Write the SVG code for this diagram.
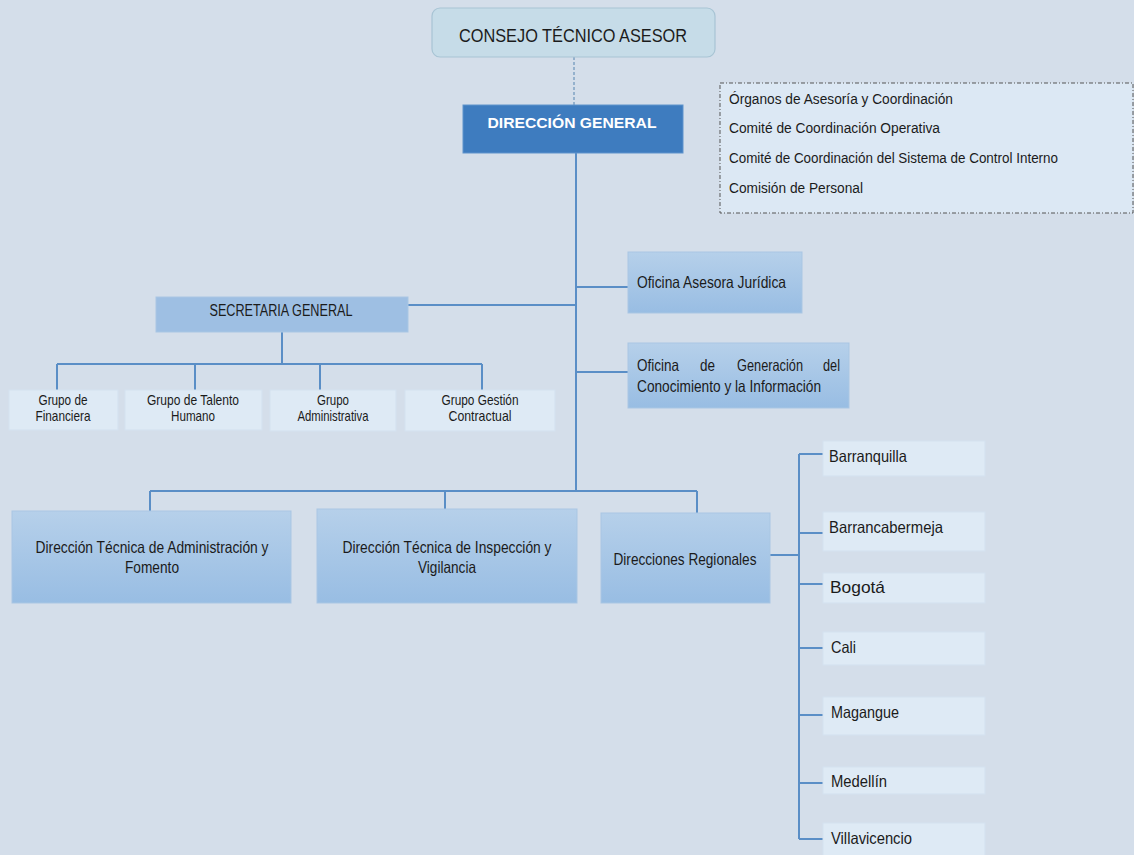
<svg xmlns="http://www.w3.org/2000/svg" width="1134" height="855" viewBox="0 0 1134 855">
<defs>
<linearGradient id="gMid" x1="0" y1="0" x2="0" y2="1">
<stop offset="0" stop-color="#b6d0ea"/>
<stop offset="1" stop-color="#98bde3"/>
</linearGradient>
<style>
text{font-family:"Liberation Sans",Arial,sans-serif;fill:#1b1b1b}
.mid{fill:url(#gMid);stroke:#a9c6e3;stroke-width:1}
.light{fill:#deeaf5;stroke:#d3e1ef;stroke-width:1}
.con{fill:none;stroke:#5a8ec6;stroke-width:2}
.t15{font-size:15.5px}
.t16{font-size:16.5px}
.t14{font-size:14.5px}
.mc{text-anchor:middle}
</style>
</defs>
<rect x="0" y="0" width="1134" height="855" fill="#d4deea"/>

<g id="connectors">
<line x1="574" y1="57" x2="574" y2="105" stroke="#7fa3c4" stroke-width="1.5" stroke-dasharray="3,2"/>
<path class="con" d="M576 153 V491"/>
<path class="con" d="M576 287 H628"/>
<path class="con" d="M576 372 H628"/>
<path class="con" d="M408 305 H576"/>
<path class="con" d="M282 332 V364 M57 364 H482 M57 364 V390 M195 364 V390 M320 364 V390 M482 364 V390"/>
<path class="con" d="M150 491 H697 M150 491 V511 M445 491 V509 M697 491 V513"/>
<path class="con" d="M770 555 H799"/>
<path class="con" d="M799 454 V839 M799 454 H823 M799 533 H823 M799 584 H823 M799 648 H823 M799 715 H823 M799 783 H823 M799 839 H823"/>
</g>

<g id="consejo">
<rect x="432" y="8" width="283" height="49" rx="8" ry="8" fill="#c6dce8" stroke="#a8c4d4" stroke-width="1.2"/>
<text x="573" y="42" class="mc" font-size="19" textLength="228" lengthAdjust="spacingAndGlyphs">CONSEJO TÉCNICO ASESOR</text>
</g>

<g id="direccion-general">
<rect x="463" y="105" width="220" height="48" fill="#3e7cbf" stroke="#5f93cc" stroke-width="1"/>
<text x="572" y="128" class="mc" font-size="15.5" font-weight="bold" style="fill:#ffffff" textLength="169" lengthAdjust="spacingAndGlyphs">DIRECCIÓN GENERAL</text>
</g>

<g id="organos">
<rect x="720" y="83" width="413" height="130" fill="#dce8f4" stroke="#555" stroke-width="1" stroke-dasharray="4,2,1,2"/>
<text x="729" y="104" class="t15" textLength="224" lengthAdjust="spacingAndGlyphs">Órganos de Asesoría y Coordinación</text>
<text x="729" y="133" class="t15" textLength="211" lengthAdjust="spacingAndGlyphs">Comité de Coordinación Operativa</text>
<text x="729" y="163" class="t15" textLength="329" lengthAdjust="spacingAndGlyphs">Comité de Coordinación del Sistema de Control Interno</text>
<text x="729" y="193" class="t15" textLength="134" lengthAdjust="spacingAndGlyphs">Comisión de Personal</text>
</g>

<g id="oficina-juridica">
<rect x="628" y="252" width="174" height="61" class="mid"/>
<text x="637" y="288" class="t16" textLength="149" lengthAdjust="spacingAndGlyphs">Oficina Asesora Jurídica</text>
</g>

<g id="oficina-generacion">
<rect x="628" y="343" width="221" height="65" class="mid"/>
<text x="637" y="371" class="t16" textLength="42" lengthAdjust="spacingAndGlyphs">Oficina</text>
<text x="700" y="371" class="t16" textLength="15" lengthAdjust="spacingAndGlyphs">de</text>
<text x="737" y="371" class="t16" textLength="66" lengthAdjust="spacingAndGlyphs">Generación</text>
<text x="823" y="371" class="t16" textLength="17" lengthAdjust="spacingAndGlyphs">del</text>
<text x="637" y="392" class="t16" textLength="184" lengthAdjust="spacingAndGlyphs">Conocimiento y la Información</text>
</g>

<g id="secretaria-general">
<rect x="156" y="297" width="252" height="35" fill="#9ebfe3" stroke="#a9c6e3" stroke-width="1"/>
<text x="281" y="316" class="mc" font-size="16" textLength="143" lengthAdjust="spacingAndGlyphs">SECRETARIA GENERAL</text>
</g>

<g id="grupo-financiera">
<rect x="9" y="390" width="109" height="40" class="light"/>
<text x="63" y="405" class="mc t14" textLength="49" lengthAdjust="spacingAndGlyphs">Grupo de</text>
<text x="63" y="421" class="mc t14" textLength="55" lengthAdjust="spacingAndGlyphs">Financiera</text>
</g>

<g id="grupo-talento">
<rect x="125" y="390" width="137" height="40" class="light"/>
<text x="193" y="405" class="mc t14" textLength="92" lengthAdjust="spacingAndGlyphs">Grupo de Talento</text>
<text x="193" y="421" class="mc t14" textLength="44" lengthAdjust="spacingAndGlyphs">Humano</text>
</g>

<g id="grupo-administrativa">
<rect x="270" y="390" width="126" height="41" class="light"/>
<text x="333" y="405" class="mc t14" textLength="32" lengthAdjust="spacingAndGlyphs">Grupo</text>
<text x="333" y="421" class="mc t14" textLength="71" lengthAdjust="spacingAndGlyphs">Administrativa</text>
</g>

<g id="grupo-contractual">
<rect x="405" y="390" width="150" height="41" class="light"/>
<text x="480" y="405" class="mc t14" textLength="77" lengthAdjust="spacingAndGlyphs">Grupo Gestión</text>
<text x="480" y="421" class="mc t14" textLength="63" lengthAdjust="spacingAndGlyphs">Contractual</text>
</g>

<g id="dt-administracion">
<rect x="12" y="511" width="279" height="92" class="mid"/>
<text x="152" y="553" class="mc t16" textLength="233" lengthAdjust="spacingAndGlyphs">Dirección Técnica de Administración y</text>
<text x="152" y="573" class="mc t16" textLength="54" lengthAdjust="spacingAndGlyphs">Fomento</text>
</g>

<g id="dt-inspeccion">
<rect x="317" y="509" width="260" height="94" class="mid"/>
<text x="447" y="553" class="mc t16" textLength="209" lengthAdjust="spacingAndGlyphs">Dirección Técnica de Inspección y</text>
<text x="447" y="573" class="mc t16" textLength="58" lengthAdjust="spacingAndGlyphs">Vigilancia</text>
</g>

<g id="direcciones-regionales">
<rect x="601" y="513" width="169" height="90" class="mid"/>
<text x="685" y="565" class="mc t16" textLength="143" lengthAdjust="spacingAndGlyphs">Direcciones Regionales</text>
</g>

<g id="barranquilla">
<rect x="823" y="441" width="162" height="35" class="light"/>
<text x="829" y="462" class="t16" textLength="78" lengthAdjust="spacingAndGlyphs">Barranquilla</text>
</g>
<g id="barrancabermeja">
<rect x="823" y="512" width="162" height="39" class="light"/>
<text x="829" y="533" class="t16" textLength="114" lengthAdjust="spacingAndGlyphs">Barrancabermeja</text>
</g>
<g id="bogota">
<rect x="823" y="573" width="162" height="30" class="light"/>
<text x="830" y="593" class="t16" textLength="55" lengthAdjust="spacingAndGlyphs">Bogotá</text>
</g>
<g id="cali">
<rect x="823" y="632" width="162" height="33" class="light"/>
<text x="831" y="653" class="t16" textLength="25" lengthAdjust="spacingAndGlyphs">Cali</text>
</g>
<g id="magangue">
<rect x="823" y="697" width="162" height="38" class="light"/>
<text x="831" y="718" class="t16" textLength="68" lengthAdjust="spacingAndGlyphs">Magangue</text>
</g>
<g id="medellin">
<rect x="823" y="767" width="162" height="27" class="light"/>
<text x="831" y="787" class="t16" textLength="56" lengthAdjust="spacingAndGlyphs">Medellín</text>
</g>
<g id="villavicencio">
<rect x="823" y="823" width="162" height="34" class="light"/>
<text x="831" y="844" class="t16" textLength="81" lengthAdjust="spacingAndGlyphs">Villavicencio</text>
</g>
</svg>
